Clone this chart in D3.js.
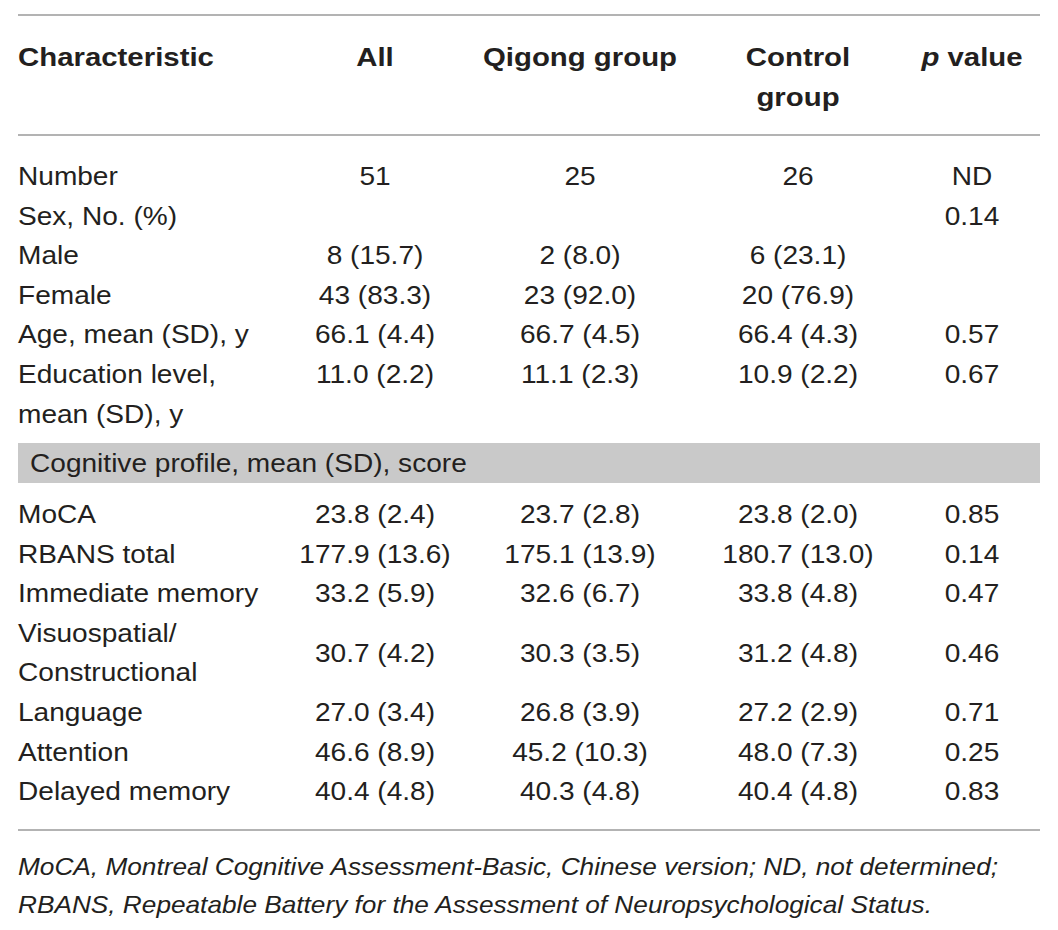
<!DOCTYPE html>
<meta charset="utf-8">
<style>
  body { margin: 0; background: #fff; }
  text {
    font-family: "Liberation Sans", Arial, sans-serif;
    font-size: 26px;
    fill: #231f20;
  }
  .head { font-weight: bold; }
  .note { font-style: italic; font-size: 24px; }
</style>
<svg width="1058" height="930"></svg>
<script src="https://d3js.org/d3.v7.min.js"></script>
<script>

// column headers (each may wrap to two lines)
var headers = [["Characteristic"], ["All"], ["Qigong group"], ["Control", "group"], ["p value"]];

// first block: demographics
var demoLabels = [["Number"], ["Sex, No. (%)"], ["Male"], ["Female"], ["Age, mean (SD), y"], ["Education level,", "mean (SD), y"]];
var demoAll     = ["51", "", "8 (15.7)", "43 (83.3)", "66.1 (4.4)", "11.0 (2.2)"];
var demoQigong  = ["25", "", "2 (8.0)", "23 (92.0)", "66.7 (4.5)", "11.1 (2.3)"];
var demoControl = ["26", "", "6 (23.1)", "20 (76.9)", "66.4 (4.3)", "10.9 (2.2)"];
var demoP       = ["ND", "0.14", "", "", "0.57", "0.67"];

// second block: cognitive profile
var sectionTitle = "Cognitive profile, mean (SD), score";
var cogLabels = [["MoCA"], ["RBANS total"], ["Immediate memory"], ["Visuospatial/", "Constructional"], ["Language"], ["Attention"], ["Delayed memory"]];
var cogAll     = ["23.8 (2.4)", "177.9 (13.6)", "33.2 (5.9)", "30.7 (4.2)", "27.0 (3.4)", "46.6 (8.9)", "40.4 (4.8)"];
var cogQigong  = ["23.7 (2.8)", "175.1 (13.9)", "32.6 (6.7)", "30.3 (3.5)", "26.8 (3.9)", "45.2 (10.3)", "40.3 (4.8)"];
var cogControl = ["23.8 (2.0)", "180.7 (13.0)", "33.8 (4.8)", "31.2 (4.8)", "27.2 (2.9)", "48.0 (7.3)", "40.4 (4.8)"];
var cogP       = ["0.85", "0.14", "0.47", "0.46", "0.71", "0.25", "0.83"];

var footnote = [
  "MoCA, Montreal Cognitive Assessment-Basic, Chinese version; ND, not determined;",
  "RBANS, Repeatable Battery for the Assessment of Neuropsychological Status."
];

var svg = d3.select("svg"),
    left = 18, right = 1040,
    lineH = 39.6,
    stretch = 1.08,      // the source face is wider than Arial
    stretchBold = 1.13;

var colX = d3.scaleOrdinal()
    .domain(["label", "all", "qigong", "control", "p"])
    .range([left, 375, 580, 798, 972]);

// baselines for line index within each block
var yHead = d3.scaleLinear().domain([0, 1]).range([66, 66 + lineH]);
var yDemo = d3.scaleLinear().domain([0, 1]).range([185, 185 + lineH]);
var yCog  = d3.scaleLinear().domain([0, 1]).range([523, 523 + lineH]);

function put(x, y, anchor, sx) {
  return svg.append("text")
      .attr("transform", "translate(" + x + "," + y + ") scale(" + sx + ",1)")
      .attr("text-anchor", anchor);
}

// rules
[15, 135, 830].forEach(function(y) {
  svg.append("line")
      .attr("x1", left).attr("x2", right)
      .attr("y1", y).attr("y2", y)
      .attr("stroke", "#9a9a9a")
      .attr("stroke-width", 1.6);
});

// header
var colKeys = colX.domain();
headers.forEach(function(h, i) {
  h.forEach(function(line, j) {
    var t = put(colX(colKeys[i]), yHead(j), i === 0 ? "start" : "middle", stretchBold)
        .attr("class", "head");
    if (line === "p value") {
      t.append("tspan").attr("font-style", "italic").text("p");
      t.append("tspan").text(" value");
    } else {
      t.text(line);
    }
  });
});

function drawBlock(labels, cols, y, centerMulti) {
  var line = 0;
  labels.forEach(function(lab, i) {
    lab.forEach(function(l, j) {
      put(colX("label"), y(line + j), "start", stretch).text(l);
    });
    var vy = centerMulti && lab.length > 1 ? y(line + (lab.length - 1) / 2) : y(line);
    ["all", "qigong", "control", "p"].forEach(function(k, c) {
      var v = cols[c][i];
      if (!v) return;
      put(colX(k), vy, "middle", stretch).text(v);
    });
    line += lab.length;
  });
}

drawBlock(demoLabels, [demoAll, demoQigong, demoControl, demoP], yDemo, false);

// section band
svg.append("rect")
    .attr("x", left).attr("y", 443)
    .attr("width", right - left).attr("height", 40)
    .attr("fill", "#c9c9c9");
put(left + 12, 472, "start", stretch).text(sectionTitle);

drawBlock(cogLabels, [cogAll, cogQigong, cogControl, cogP], yCog, true);

// footnote
footnote.forEach(function(f, i) {
  svg.append("text")
      .attr("class", "note")
      .attr("x", left)
      .attr("y", 875 + i * 38)
      .attr("textLength", i === 0 ? 980 : 914)
      .attr("lengthAdjust", "spacingAndGlyphs")
      .text(f);
});

</script>
